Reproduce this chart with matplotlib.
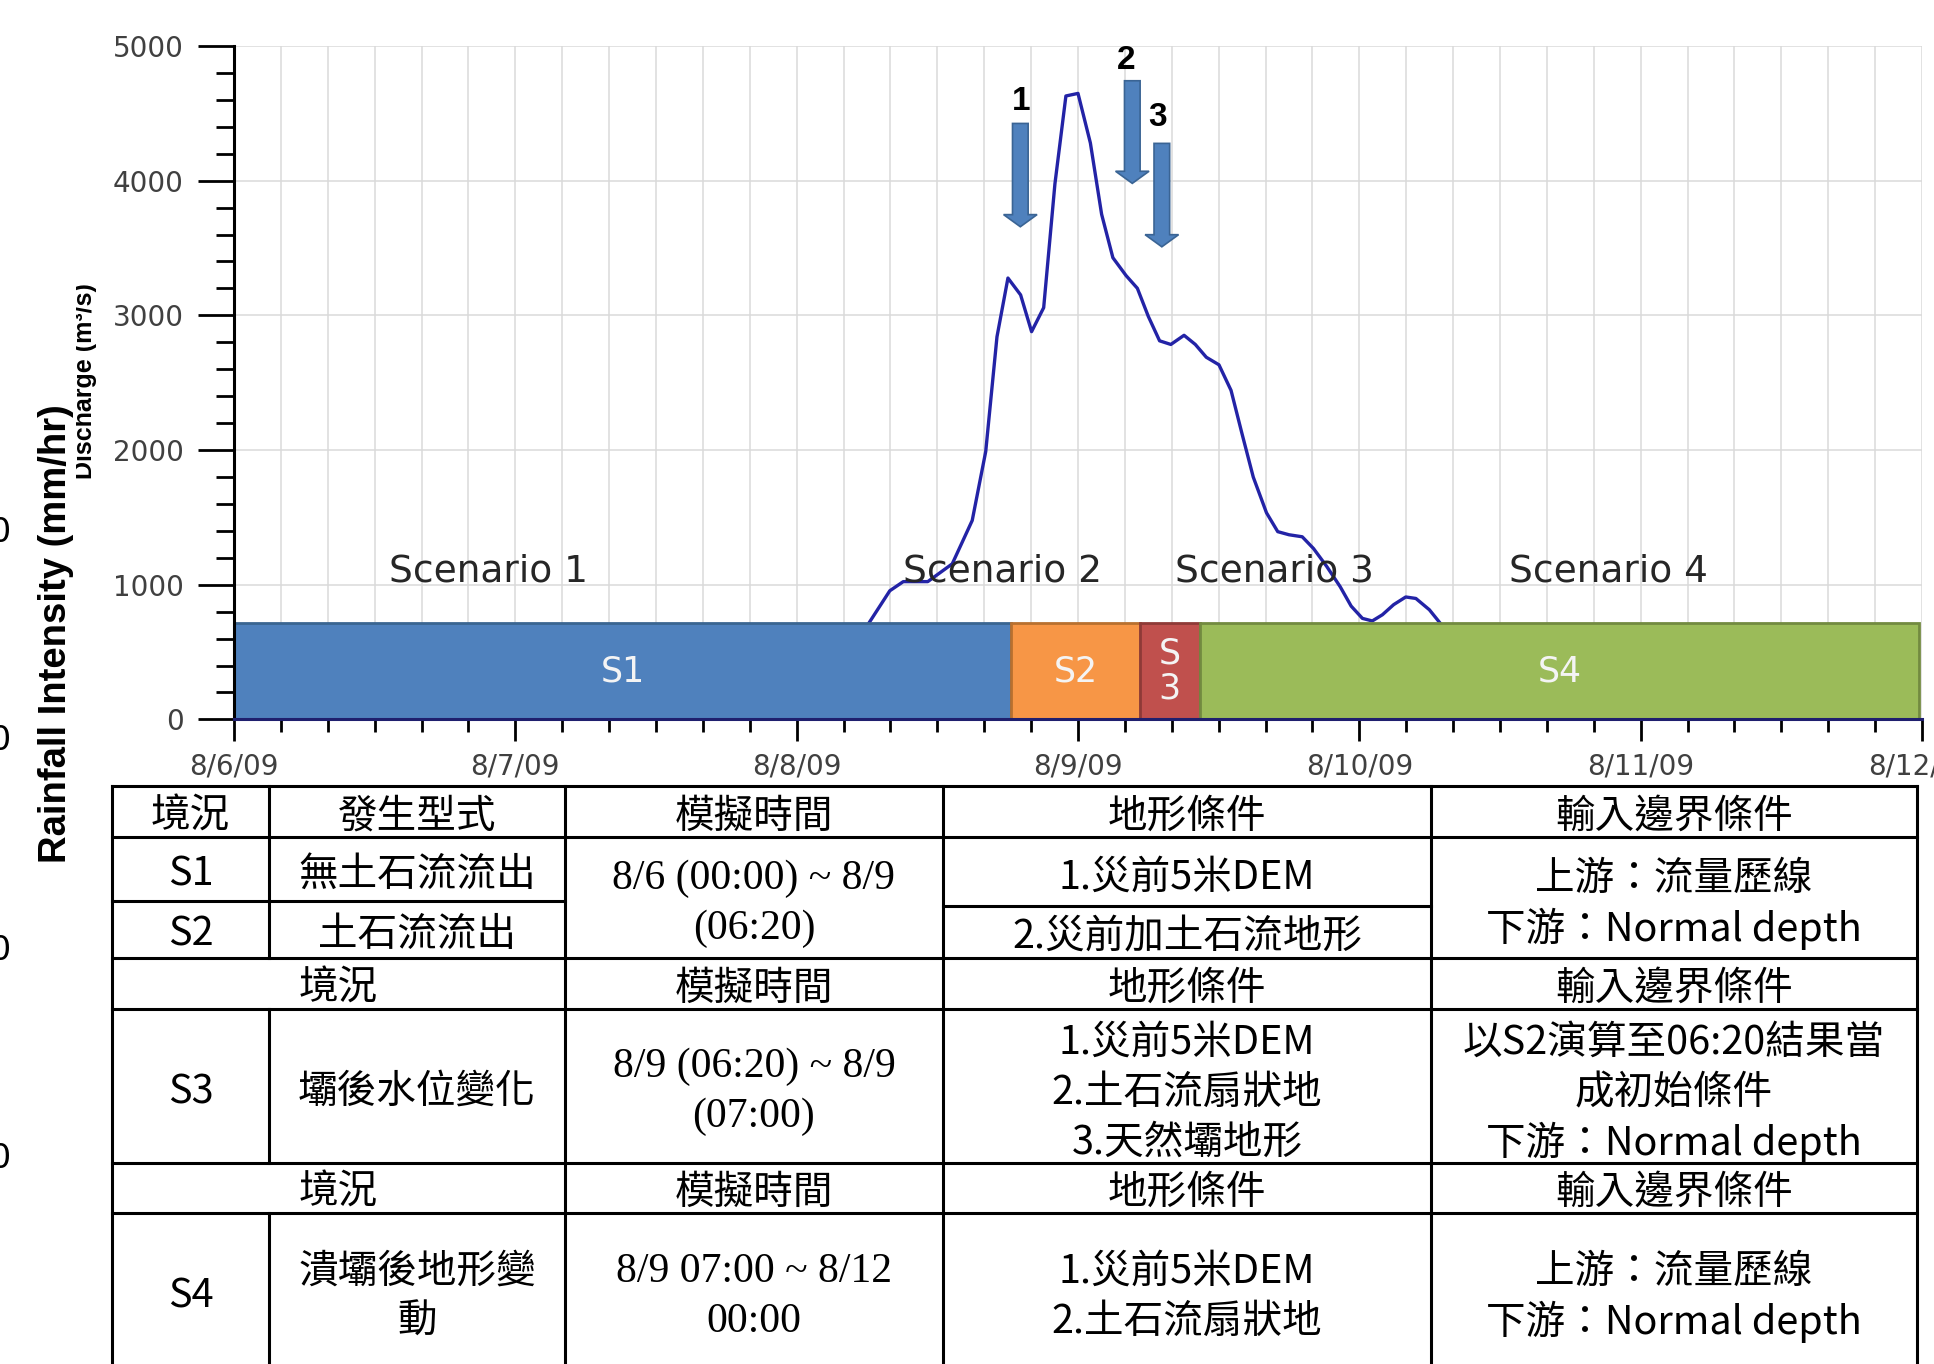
import matplotlib
matplotlib.use('Agg')
import matplotlib.pyplot as plt
from matplotlib.patches import FancyArrow
from matplotlib.ticker import MultipleLocator
from matplotlib.transforms import Bbox

W, H = 1934, 1364

# discharge hydrograph (days after 8/6/09 00:00, m3/s)
flow_day = [2.252, 2.331, 2.379, 2.466, 2.553, 2.624, 2.672, 2.712, 2.751, 2.796,
            2.835, 2.878, 2.918, 2.957, 3.000, 3.044, 3.084, 3.124, 3.171, 3.211,
            3.250, 3.290, 3.330, 3.377, 3.417, 3.456, 3.501, 3.544, 3.583, 3.623,
            3.670, 3.710, 3.750, 3.797, 3.837, 3.884, 3.932, 3.971, 4.011, 4.046,
            4.082, 4.122, 4.165, 4.201, 4.249, 4.293]
flow_q = [700, 955, 1023, 1023, 1155, 1477, 1989, 2841, 3277, 3152,
          2879, 3057, 3977, 4629, 4648, 4280, 3750, 3428, 3295, 3201,
          2992, 2811, 2784, 2852, 2784, 2689, 2633, 2443, 2121, 1799,
          1534, 1394, 1371, 1356, 1269, 1136, 985, 841, 750, 731,
          777, 852, 909, 898, 814, 700]

day_labels = ['8/6/09', '8/7/09', '8/8/09', '8/9/09', '8/10/09', '8/11/09', '8/12/09']

# scenario bars
seg_names = ['S1', 'S2', 'S\n3', 'S4']
seg_start = [0.0, 2.763, 3.219, 3.434]
seg_end = [2.763, 3.219, 3.434, 5.991]
seg_top = 716
seg_colors = ['#4F81BD', '#F79646', '#C0504D', '#9BBB59']
seg_edges = ['#3A6591', '#B8702F', '#8E3A37', '#728A40']

scen_labels = ['Scenario 1', 'Scenario 2', 'Scenario 3', 'Scenario 4']
scen_x = [0.904, 2.732, 3.70, 4.886]
scen_y = 1100

# arrows 1-3
arrow_x = [2.795, 3.193, 3.298]
arrow_top = [4425, 4742, 4277]
arrow_tip = [3658, 3980, 3509]
arrow_num = ['1', '2', '3']
num_x = [2.797, 3.171, 3.284]
num_y = [4586, 4890, 4470]

# table content
head = ['境況', '發生型式', '模擬時間', '地形條件', '輸入邊界條件']
s12_id = ['S1', 'S2']
s12_type = ['無土石流流出', '土石流流出']
s12_time = ['8/6 (00:00) ~ 8/9', '(06:20)']
s12_terrain = ['1.災前5米DEM', '2.災前加土石流地形']
s12_bound = ['上游：流量歷線', '下游：Normal depth']
s3_row = ['S3', '壩後水位變化']
s3_time = ['8/9 (06:20) ~ 8/9', '(07:00)']
s3_terrain = ['1.災前5米DEM', '2.土石流扇狀地', '3.天然壩地形']
s3_bound = ['以S2演算至06:20結果當', '成初始條件', '下游：Normal depth']
s4_row = ['S4']
s4_type = ['潰壩後地形變', '動']
s4_time = ['8/9 07:00 ~ 8/12', '00:00']
s4_terrain = ['1.災前5米DEM', '2.土石流扇狀地']
s4_bound = ['上游：流量歷線', '下游：Normal depth']

plt.rcParams['font.family'] = ['DejaVu Sans']
CJK = ['Noto Sans CJK TC', 'DejaVu Sans']
SERIF = ['Liberation Serif', 'DejaVu Serif']

fig = plt.figure(figsize=(W / 100, H / 100), dpi=100)

# ---- table (pixel coords) ----
tab = fig.add_axes([0, 0, 1, 1], zorder=-1)
tab.set_xlim(0, W)
tab.set_ylim(H, 0)
tab.axis('off')

cx = [112, 269, 565, 943, 1431, 1917]
ry = [786, 837, 901, 957.6, 1008.5, 1162.5, 1212.6, 1364]
lk = dict(color='black', lw=2.2, solid_capstyle='projecting')
for y in [ry[0], ry[1], ry[3], ry[4], ry[5], ry[6]]:
    tab.plot([cx[0], cx[5]], [y, y], **lk)
tab.plot([cx[0], cx[2]], [901, 901], **lk)
tab.plot([cx[3], cx[4]], [906, 906], **lk)
for x in [cx[0], cx[2], cx[3], cx[4], cx[5]]:
    tab.plot([x, x], [ry[0], H + 5], **lk)
for a, b in [(ry[0], ry[3]), (ry[4], ry[5]), (ry[6], H + 5)]:
    tab.plot([cx[1], cx[1]], [a, b], **lk)

mid = [(cx[i] + cx[i + 1]) / 2 for i in range(5)]
mid01 = (cx[0] + cx[2]) / 2
DY = 6  # text sits a little low in its cells


def put(x, yc, lines, fam=CJK, size=28.5):
    n = len(lines)
    for i, s in enumerate(lines):
        tab.text(x, yc + DY + (i - (n - 1) / 2) * 50, s, ha='center', va='center',
                 family=fam, fontsize=size, color='black')


for i, h in enumerate(head):
    put(mid[i], 811, [h])
put(mid[0], 869, [s12_id[0]])
put(mid[0], 929, [s12_id[1]])
put(mid[1], 869, [s12_type[0]])
put(mid[1], 929, [s12_type[1]])
put(mid[2], 898, s12_time, SERIF, 30)
put(mid[3], 872, [s12_terrain[0]])
put(mid[3], 931, [s12_terrain[1]])
put(mid[4], 898, s12_bound)
for y in [983, 1187]:
    put(mid01, y, [head[0]])
    for i in range(2, 5):
        put(mid[i], y, [head[i]])
put(mid[0], 1086, [s3_row[0]])
put(mid[1], 1086, [s3_row[1]])
put(mid[2], 1086, s3_time, SERIF, 30)
put(mid[3], 1087, s3_terrain)
put(mid[4], 1087, s3_bound)
put(mid[0], 1291, s4_row)
put(mid[1], 1291, s4_type)
put(mid[2], 1291, s4_time, SERIF, 30)
put(mid[3], 1291, s4_terrain)
put(mid[4], 1291, s4_bound)

# ---- hydrograph ----
ax = fig.add_axes([234 / W, 1 - 719.4 / H, (1922 - 234) / W, (719.4 - 46) / H])
ax.set_xlim(0, 6)
ax.set_ylim(0, 5000)
ax.plot(flow_day, flow_q, color='#2323A6', lw=2.4, zorder=2)

for s, e, c, ec, name in zip(seg_start, seg_end, seg_colors, seg_edges, seg_names):
    ax.bar((s + e) / 2, seg_top, width=e - s, color=c, edgecolor=ec, lw=2, zorder=3)
    ax.text((s + e) / 2, seg_top / 2, name, ha='center', va='center', color='#F4F4F4',
            fontsize=25, linespacing=1.05, zorder=4)

for lab, x in zip(scen_labels, scen_x):
    ax.text(x, scen_y, lab, ha='center', va='center', fontsize=27, color='#262626', zorder=4)

for x, t, b in zip(arrow_x, arrow_top, arrow_tip):
    ax.add_patch(FancyArrow(x, t, 0, b - t, width=0.0556, head_width=0.119,
                            head_length=90, length_includes_head=True,
                            fc='#4F81BD', ec='#3A6494', lw=1.2, zorder=5))
for x, y, s in zip(num_x, num_y, arrow_num):
    ax.text(x, y, s, ha='center', va='center', fontsize=24, fontweight='bold',
            family=['Liberation Sans'], color='black', zorder=5)

ax.set_xticks(range(7))
ax.set_xticklabels(day_labels)
ax.xaxis.set_minor_locator(MultipleLocator(1 / 6))
ax.yaxis.set_major_locator(MultipleLocator(1000))
ax.yaxis.set_minor_locator(MultipleLocator(200))
ax.tick_params(axis='y', which='major', length=26, width=2, pad=10, labelsize=20,
               labelcolor='#404040')
ax.tick_params(axis='y', which='minor', length=13, width=2)
ax.tick_params(axis='x', which='major', length=16, width=2, pad=8, labelsize=20,
               labelcolor='#404040')
ax.tick_params(axis='x', which='minor', length=9.5, width=2)
ax.grid(which='major', color='#DADADA', lw=1.1, zorder=0)
ax.grid(which='minor', axis='x', color='#DADADA', lw=1.1, zorder=0)
ax.set_axisbelow(True)
for side in ['top', 'right']:
    ax.spines[side].set_visible(False)
ax.spines['left'].set_linewidth(2.2)
ax.spines['bottom'].set_linewidth(2.2)
ax.spines['bottom'].set_color('#1F1F6E')
ax.spines['bottom'].set_zorder(6)
ax.spines['left'].set_zorder(6)

# ---- axis titles (leftovers of the original overlay) ----
fig.text(56 / W, 1 - 634 / H, 'Rainfall Intensity (mm/hr)', rotation=90, ha='center',
         va='center', fontsize=27.5, fontweight='bold', family=['Liberation Sans'])
dis = fig.text(85 / W, 1 - 381 / H, 'Discharge (m³/s)', rotation=90, ha='center',
               va='center', fontsize=18, fontweight='bold', family=['Liberation Sans'])
dis.set_clip_box(Bbox([[76, 0], [W, H]]))
dis.set_clip_on(True)
for y in [533, 740, 950, 1159]:
    fig.text(0, 1 - y / H, '0', ha='center', va='center', fontsize=24)

fig.savefig('out.png', dpi=100)
